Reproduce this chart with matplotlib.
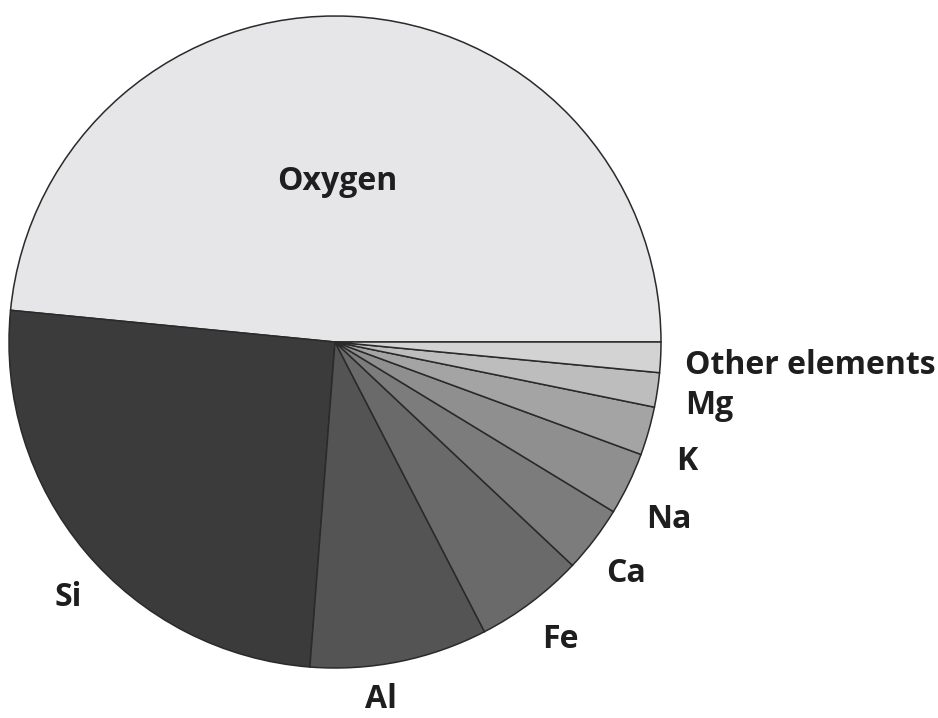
import matplotlib
matplotlib.use('Agg')
import matplotlib.pyplot as plt

# element shares of the crust (percent)
elements = ['Oxygen', 'Si', 'Al', 'Fe', 'Ca', 'Na', 'K', 'Mg', 'Other elements']
shares = [48.4, 25.3, 8.8, 5.4, 3.3, 3.1, 2.4, 1.7, 1.5]
colors = ['#e6e6e8', '#3b3b3b', '#545454', '#6a6a6a', '#7c7c7c',
          '#8f8f8f', '#a4a4a4', '#bdbdbd', '#d3d3d3']

# label anchor points in pixels (x, y from top-left) and alignment
label_px = {
    'Oxygen': (337, 181, 'center'),
    'Si': (54, 598, 'left'),
    'Al': (365, 700, 'left'),
    'Fe': (542, 640, 'left'),
    'Ca': (606, 573, 'left'),
    'Na': (646, 519, 'left'),
    'K': (676, 462, 'left'),
    'Mg': (685, 406, 'left'),
    'Other elements': (685, 366, 'left'),
}

W, H = 938, 718
cx, cy, r = 335, 342, 326

fig = plt.figure(figsize=(W / 100, H / 100), dpi=100)
ax = fig.add_axes([0, 0, 1, 1])

ax.pie(shares, colors=colors, startangle=0, counterclock=True,
       radius=1.0, center=(0, 0), frame=True,
       wedgeprops={'edgecolor': '#2a2a2a', 'linewidth': 1.1})
ax.set_xlim(-cx / r, (W - cx) / r)
ax.set_ylim(-(H - cy) / r, cy / r)
ax.set_aspect('auto')
ax.axis('off')

for name in elements:
    px, py, ha = label_px[name]
    ax.text((px - cx) / r, (cy - py) / r, name, ha=ha, va='center',
            fontsize=23, fontweight='bold', family='Open Sans',
            color='#1e1e1e')

plt.savefig('out.png', dpi=100)
plt.close()
